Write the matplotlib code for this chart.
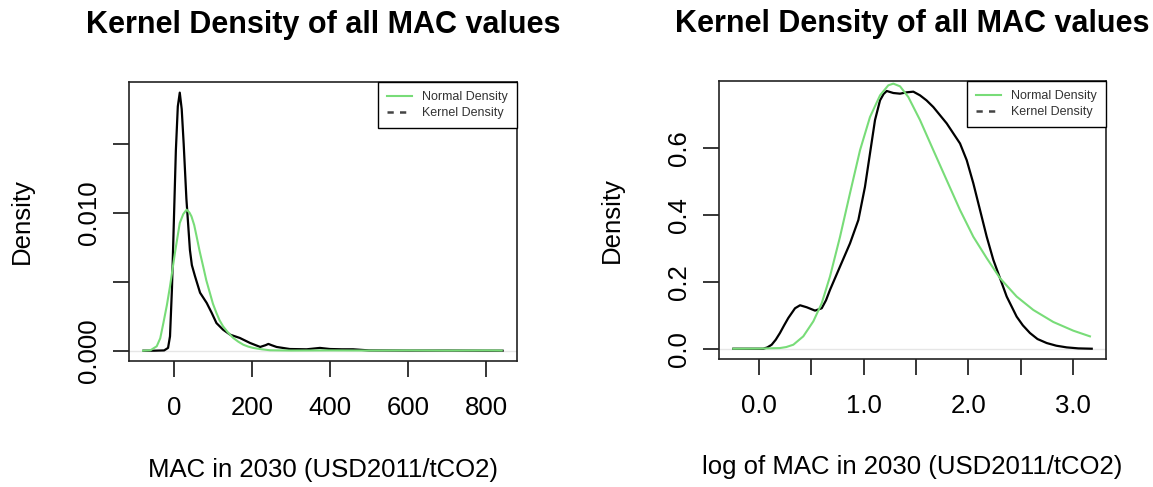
import matplotlib.pyplot as plt
from matplotlib.lines import Line2D

plt.rcParams["font.family"] = ["Liberation Sans", "DejaVu Sans"]

# MAC in 2030 (USD2011/tCO2): kernel density estimate
mac_kde_x = [-78, -50, -25, -15, -10, -5, 0, 5, 10, 15, 20, 25, 32, 41, 46, 54,
             67, 84, 97, 109, 126, 144, 169, 195, 221, 235, 242, 250, 263, 297,
             340, 374, 400, 430, 459, 500, 600, 700, 842]
mac_kde_y = [0, 0, 0.00002, 0.0002, 0.00104, 0.0045, 0.0095, 0.0145, 0.0177,
             0.0187, 0.0175, 0.0150, 0.0110, 0.0073, 0.0062, 0.0054, 0.0042,
             0.00346, 0.00273, 0.0020, 0.00152, 0.00116, 0.00092, 0.00056,
             0.00027, 0.0004, 0.00049, 0.0004, 0.00027, 0.00012, 0.0001, 0.0002,
             0.00012, 0.0001, 0.0001, 0.00002, 0.00001, 0.00001, 0]

# fitted density on the raw scale
mac_fit_x = [-79, -60, -44, -35, -27, -18, -10, -3, 2.6, 9, 15, 24, 32.5, 40, 45,
             52, 58, 66, 75, 83, 92, 100, 109, 117, 126, 139, 152, 165, 178, 190,
             203, 225, 246, 300, 400, 500, 600, 700, 800, 840]
mac_fit_y = [0, 0.00003, 0.00032, 0.0009, 0.0020, 0.0033, 0.00466, 0.0060,
             0.00708, 0.0082, 0.00925, 0.0099, 0.01022, 0.0100, 0.00973, 0.0091,
             0.0083, 0.0072, 0.0061, 0.0051, 0.0042, 0.0034, 0.00273, 0.0022,
             0.00176, 0.0013, 0.00092, 0.00065, 0.00043, 0.0003, 0.0002, 0.0001,
             0.00003, 0.00001, 0.00002, 0.00001, 0.00002, 0.00001, 0.00002,
             0.00001]

# log10 of MAC: kernel density estimate
log_kde_x = [-0.245, 0.041, 0.08, 0.121, 0.16, 0.20, 0.24, 0.28, 0.344, 0.392,
             0.456, 0.535, 0.599, 0.64, 0.678, 0.774, 0.869, 0.949, 1.012, 1.060,
             1.108, 1.156, 1.19, 1.220, 1.283, 1.347, 1.411, 1.474, 1.538, 1.60,
             1.665, 1.793, 1.920, 1.984, 2.047, 2.111, 2.175, 2.238, 2.302, 2.366,
             2.461, 2.52, 2.588, 2.66, 2.748, 2.84, 2.939, 3.05, 3.178]
log_kde_y = [0, 0.0, 0.004, 0.012, 0.027, 0.047, 0.070, 0.092, 0.121, 0.130,
             0.124, 0.114, 0.121, 0.145, 0.176, 0.246, 0.315, 0.385, 0.484, 0.584,
             0.684, 0.743, 0.762, 0.771, 0.765, 0.763, 0.767, 0.769, 0.758, 0.743,
             0.723, 0.674, 0.614, 0.564, 0.495, 0.415, 0.335, 0.266, 0.211, 0.156,
             0.096, 0.070, 0.047, 0.029, 0.017, 0.009, 0.004, 0.001, 0.0]

# fitted density on the log scale
log_fit_x = [-0.245, 0.0, 0.20, 0.26, 0.328, 0.423, 0.519, 0.599, 0.678, 0.774,
             0.869, 0.965, 1.060, 1.156, 1.235, 1.283, 1.347, 1.426, 1.538, 1.665,
             1.793, 1.920, 2.047, 2.175, 2.302, 2.461, 2.620, 2.811, 3.002, 3.161]
log_fit_y = [0, 0.0005, 0.002, 0.005, 0.012, 0.037, 0.082, 0.136, 0.216, 0.335,
             0.465, 0.594, 0.693, 0.758, 0.788, 0.793, 0.785, 0.753, 0.684, 0.594,
             0.504, 0.415, 0.335, 0.271, 0.211, 0.156, 0.116, 0.080, 0.054, 0.037]

mac_xticks = [0, 200, 400, 600, 800]
mac_xlabels = ["0", "200", "400", "600", "800"]
mac_yticks = [0, 0.005, 0.010, 0.015]
mac_ylabels = ["0.000", "", "0.010", ""]

log_xticks = [0.0, 0.5, 1.0, 1.5, 2.0, 2.5, 3.0]
log_xlabels = ["0.0", "", "1.0", "", "2.0", "", "3.0"]
log_yticks = [0.0, 0.2, 0.4, 0.6]
log_ylabels = ["0.0", "0.2", "0.4", "0.6"]

title = "Kernel Density of all MAC values"
legend_labels = ["Normal Density", "Kernel Density"]
green = "#78dc78"

fig = plt.figure(figsize=(11.53, 4.87), dpi=100)
ax1 = fig.add_axes([0.1119, 0.2587, 0.3365, 0.5729])
ax2 = fig.add_axes([0.6236, 0.2628, 0.3356, 0.5708])


def draw_panel(ax, kx, ky, fx, fy, xlim, ylim, xt, xl, yt, yl, xlabel):
    ax.axhline(0, color="#e6e6e6", lw=1, zorder=0.5)
    ax.plot(kx, ky, color="black", lw=1.6, zorder=2)
    ax.plot(fx, fy, color=green, lw=1.5, zorder=3)
    ax.set_xlim(*xlim)
    ax.set_ylim(*ylim)

    ax.set_xticks(xt)
    ax.set_xticklabels(xl)
    ax.set_yticks(yt)
    ax.set_yticklabels(yl, rotation=90, va="center")
    ax.tick_params(direction="out", length=11.5, width=1.1, labelsize=18.5,
                   colors="black")
    ax.tick_params(axis="x", pad=14)
    ax.tick_params(axis="y", pad=9)
    for sp in ax.spines.values():
        sp.set_linewidth(1.2)
        sp.set_color("#222222")

    ax.set_title(title, fontsize=22, fontweight="bold", pad=35)
    ax.set_xlabel(xlabel, fontsize=18.5, va="center")
    ax.xaxis.set_label_coords(0.5, -0.39)
    ax.set_ylabel("Density", fontsize=18.5, va="center", ha="center")
    ax.yaxis.set_label_coords(-0.276, 0.5)

    handles = [Line2D([], [], color=green, lw=1.5),
               Line2D([], [], color="#444444", lw=1.8, ls=(0, (2.5, 2.5)))]
    leg = ax.legend(handles, legend_labels, loc="upper right",
                    bbox_to_anchor=(1, 1), borderaxespad=0, fontsize=9,
                    frameon=True, fancybox=False, framealpha=1,
                    edgecolor="black", handlelength=2.0, handletextpad=0.8,
                    borderpad=0.72, labelspacing=0.31)
    leg.get_frame().set_linewidth(1.0)
    for t in leg.get_texts():
        t.set_color("#333333")


draw_panel(ax1, mac_kde_x, mac_kde_y, mac_fit_x, mac_fit_y,
           (-115, 879), (-0.000749, 0.01947),
           mac_xticks, mac_xlabels, mac_yticks, mac_ylabels,
           "MAC in 2030 (USD2011/tCO2)")
draw_panel(ax2, log_kde_x, log_kde_y, log_fit_x, log_fit_y,
           (-0.382, 3.314), (-0.0308, 0.8008),
           log_xticks, log_xlabels, log_yticks, log_ylabels,
           "log of MAC in 2030 (USD2011/tCO2)")

fig.savefig("out.png", dpi=100)
